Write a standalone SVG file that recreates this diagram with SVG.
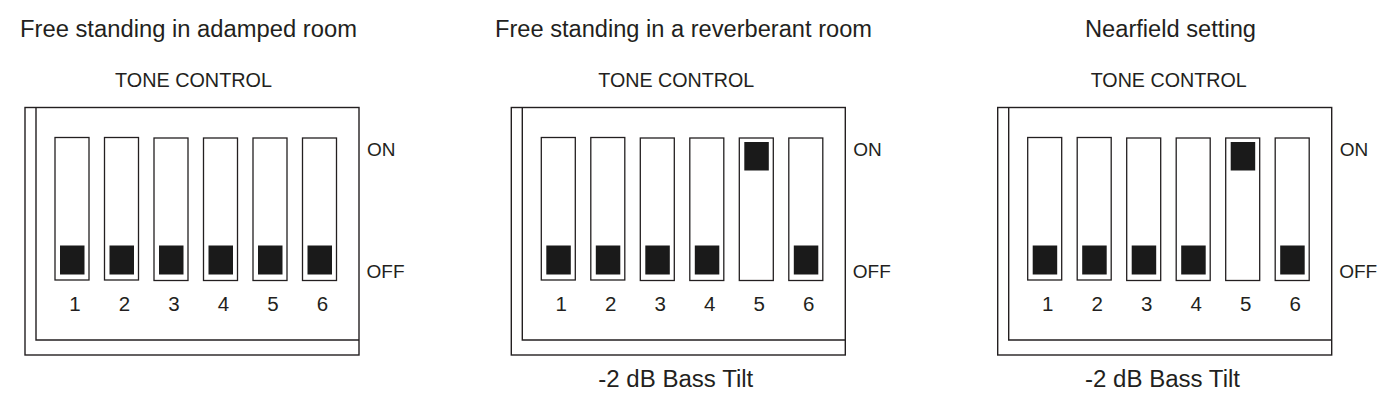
<svg xmlns="http://www.w3.org/2000/svg" width="1390" height="402" viewBox="0 0 1390 402">
<style>
text{font-family:"Liberation Sans",Arial,sans-serif;fill:#231f20}
.title{font-size:23px}
.tc{font-size:19.5px}
.num{font-size:20.5px;text-anchor:middle}
.lbl{font-size:19px}
.tilt{font-size:23px}
.box{fill:none;stroke:#231f20;stroke-width:1.4}
.slot{fill:#fff;stroke:#231f20;stroke-width:1.3}
.knob{fill:#1a1a1a}
</style>
<rect width="1390" height="402" fill="#fff"/>
<defs>
<g id="frame">
<rect class="box" x="25" y="107.5" width="334" height="247.5"/>
<polyline class="box" points="36,107.5 36,340 359,340"/>
<rect class="slot" x="55" y="137.5" width="34" height="142.5"/>
<rect class="slot" x="104.5" y="137.5" width="34" height="142.5"/>
<rect class="slot" x="154" y="138" width="34" height="142.5"/>
<rect class="slot" x="203.5" y="138" width="34" height="142.5"/>
<rect class="slot" x="253" y="138" width="34" height="142.5"/>
<rect class="slot" x="302.5" y="138" width="34" height="142.5"/>
<text class="num" x="75" y="310.7">1</text>
<text class="num" x="124.5" y="310.7">2</text>
<text class="num" x="174" y="310.7">3</text>
<text class="num" x="223.5" y="310.7">4</text>
<text class="num" x="273" y="310.7">5</text>
<text class="num" x="322.5" y="310.7">6</text>
<text class="lbl" x="367" y="155.7">ON</text>
<text class="lbl" x="366.5" y="278.3">OFF</text>
</g>
<rect id="koff" class="knob" width="24.5" height="29" y="245.5"/>
<rect id="kon" class="knob" width="24.5" height="28.5" y="142"/>
</defs>

<g id="panel1">
<text class="title" x="20" y="36.7" textLength="337" lengthAdjust="spacingAndGlyphs">Free standing in adamped room</text>
<text class="tc" x="115" y="86.5" textLength="157" lengthAdjust="spacingAndGlyphs">TONE CONTROL</text>
<use href="#frame"/>
<use href="#koff" x="60"/>
<use href="#koff" x="109.5"/>
<use href="#koff" x="159"/>
<use href="#koff" x="208.5"/>
<use href="#koff" x="258"/>
<use href="#koff" x="307.5"/>
</g>

<g id="panel2">
<text class="title" x="495" y="36.7" textLength="377" lengthAdjust="spacingAndGlyphs">Free standing in a reverberant room</text>
<text class="tc" x="598.3" y="86.5" textLength="156" lengthAdjust="spacingAndGlyphs">TONE CONTROL</text>
<g transform="translate(486.3,0)">
<use href="#frame"/>
<use href="#koff" x="60"/>
<use href="#koff" x="109.5"/>
<use href="#koff" x="159"/>
<use href="#koff" x="208.5"/>
<use href="#kon" x="258"/>
<use href="#koff" x="307.5"/>
</g>
<text class="tilt" x="598.3" y="386.7" textLength="155" lengthAdjust="spacingAndGlyphs">-2 dB Bass Tilt</text>
</g>

<g id="panel3">
<text class="title" x="1085" y="36.7" textLength="171" lengthAdjust="spacingAndGlyphs">Nearfield setting</text>
<text class="tc" x="1090.7" y="86.5" textLength="156" lengthAdjust="spacingAndGlyphs">TONE CONTROL</text>
<g transform="translate(972.7,0)">
<use href="#frame"/>
<use href="#koff" x="60"/>
<use href="#koff" x="109.5"/>
<use href="#koff" x="159"/>
<use href="#koff" x="208.5"/>
<use href="#kon" x="258"/>
<use href="#koff" x="307.5"/>
</g>
<text class="tilt" x="1085" y="386.7" textLength="155" lengthAdjust="spacingAndGlyphs">-2 dB Bass Tilt</text>
</g>

<g id="connectors"></g>
</svg>
